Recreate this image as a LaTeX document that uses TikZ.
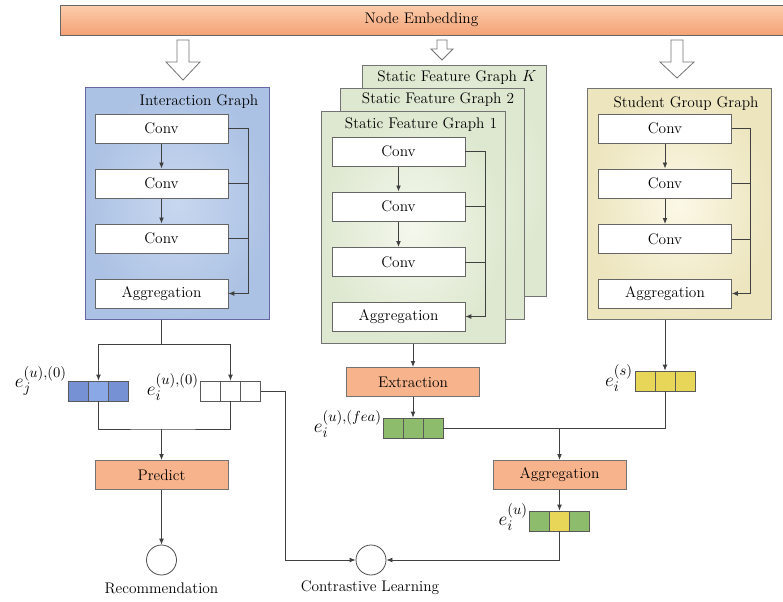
\documentclass[tikz,border=0pt]{standalone}
\usetikzlibrary{arrows.meta,calc}
\definecolor{orF}{RGB}{247,180,140}
\definecolor{orTop}{RGB}{251,205,172}
\definecolor{orBot}{RGB}{244,162,118}
\definecolor{bluIn}{RGB}{200,215,239}
\definecolor{bluOut}{RGB}{172,194,228}
\definecolor{grnIn}{RGB}{244,248,237}
\definecolor{grnOut}{RGB}{222,232,208}
\definecolor{ylwIn}{RGB}{251,248,230}
\definecolor{ylwOut}{RGB}{237,229,190}
\definecolor{cellB}{RGB}{118,146,212}
\definecolor{cellBm}{RGB}{138,168,230}
\definecolor{cellG}{RGB}{140,188,108}
\definecolor{cellY}{RGB}{232,214,88}
\newcommand{\embcells}[6]{%
  \node[cell, fill=#4] (#1-l) at (#2-20,#3) {};
  \node[cell, fill=#5] (#1) at (#2,#3) {};
  \node[cell, fill=#6] (#1-r) at (#2+20,#3) {};
}
\begin{document}
\begin{tikzpicture}[x=0.75pt,y=-0.75pt,
  every node/.style={inner sep=0pt, font=\fontsize{11.5}{13}\selectfont},
  box/.style={draw=black!60, fill=white, minimum width=99.75pt, minimum height=22pt, line width=0.5pt},
  obox/.style={box, fill=orF, draw=black!55},
  panel/.style={draw=black!55, line width=0.6pt, minimum width=138pt, minimum height=173.5pt},
  bpanel/.style={panel, inner color=bluIn, outer color=bluOut, draw=black!60!blue!60},
  gpanel/.style={panel, inner color=grnIn, outer color=grnOut},
  ypanel/.style={panel, inner color=ylwIn, outer color=ylwOut},
  arr/.style={-{Latex[length=4.5pt,width=3.6pt]}, line width=0.6pt, draw=black!75},
  ln/.style={line width=0.6pt, draw=black!75},
  cell/.style={draw=black!65, minimum width=15pt, minimum height=15pt, line width=0.5pt},
  hollow/.style={draw=black!55, fill=white, line width=0.6pt, line join=miter},
  mlabel/.style={font=\fontsize{15}{17}\selectfont, anchor=east},
  circ/.style={circle, draw=black!70, fill=white, minimum size=22.5pt, line width=0.6pt}
]
\useasboundingbox (0,0) rectangle (783,601);

% Node embedding bar
\node[draw=black!60, line width=0.6pt, top color=orTop, bottom color=orBot,
      minimum width=542.25pt, minimum height=22.5pt] (ne) at (421.5,20) {Node Embedding};

% hollow arrows
\draw[hollow] (177,40) -- (189,40) -- (189,62) -- (200,62) -- (183,80) -- (166,62) -- (177,62) -- cycle;
\draw[hollow] (437,40) -- (447,40) -- (447,49) -- (453,49) -- (442,60) -- (431,49) -- (437,49) -- cycle;
\draw[hollow] (671,40) -- (683,40) -- (683,62) -- (694,62) -- (677,78) -- (660,62) -- (671,62) -- cycle;

% Interaction graph
\node[bpanel] (ig) at (177,203.5) {};
\node (igt) at (199,102) {Interaction Graph};
\node[box] (ic1) at (161.5,128.5) {Conv};
\node[box] (ic2) at (161.5,183.5) {Conv};
\node[box] (ic3) at (161.5,238.5) {Conv};
\node[box] (iagg) at (161.5,293.5) {Aggregation};
\coordinate (ifx) at (248,128.5);
\draw[arr] (ic1) -- (ic2);
\draw[arr] (ic2) -- (ic3);
\draw[arr] (ic1.east) -- (ifx) -- (ifx |- iagg.east) -- (iagg.east);
\draw[ln] (ic2.east) -- (ifx |- ic2.east);
\draw[ln] (ic3.east) -- (ifx |- ic3.east);

% Static feature graphs
\node[gpanel] (sfk) at (454,181) {};
\node (sfkt) at (457,78) {Static Feature Graph $K$};
\node[gpanel] (sf2) at (432,204) {};
\node (sf2t) at (438,100) {Static Feature Graph 2};
\node[gpanel] (sf1) at (413,227.5) {};
\node (sf1t) at (421,125) {Static Feature Graph 1};
\node[box] (sc1) at (398.5,151.5) {Conv};
\node[box] (sc2) at (398.5,206.5) {Conv};
\node[box] (sc3) at (398.5,262) {Conv};
\node[box] (sagg) at (398.5,316.5) {Aggregation};
\coordinate (sfx) at (485,151.5);
\draw[arr] (sc1) -- (sc2);
\draw[arr] (sc2) -- (sc3);
\draw[arr] (sc1.east) -- (sfx) -- (sfx |- sagg.east) -- (sagg.east);
\draw[ln] (sc2.east) -- (sfx |- sc2.east);
\draw[ln] (sc3.east) -- (sfx |- sc3.east);

% Student group graph
\node[ypanel] (sg) at (679,204) {};
\node (sgt) at (686,104) {Student Group Graph};
\node[box] (gc1) at (665,128.5) {Conv};
\node[box] (gc2) at (665,183.5) {Conv};
\node[box] (gc3) at (665,239) {Conv};
\node[box] (gagg) at (665,293.5) {Aggregation};
\coordinate (gfx) at (750,128.5);
\draw[arr] (gc1) -- (gc2);
\draw[arr] (gc2) -- (gc3);
\draw[arr] (gc1.east) -- (gfx) -- (gfx |- gagg.east) -- (gagg.east);
\draw[ln] (gc2.east) -- (gfx |- gc2.east);
\draw[ln] (gc3.east) -- (gfx |- gc3.east);

% embeddings
\embcells{bj}{98.5}{391}{cellB}{cellBm}{cellB}
\embcells{wi}{230.5}{391}{white}{white}{white}
\embcells{gf}{413}{428}{cellG}{cellG}{cellG}
\embcells{ye}{665}{381}{cellY}{cellY}{cellY}
\embcells{fe}{559.5}{521}{cellG}{cellY}{cellG}

\node[mlabel] (lbj) at (67,381) {$e_j^{(u),(0)}$};
\node[mlabel] (lwi) at (199,387) {$e_i^{(u),(0)}$};
\node[mlabel] (lgf) at (382,424) {$e_i^{(u),(fea)}$};
\node[mlabel] (lye) at (633,378) {$e_i^{(s)}$};
\node[mlabel] (lfe) at (528,517) {$e_i^{(u)}$};

% orange boxes
\node[obox] (ext) at (413,382) {Extraction};
\node[obox] (pred) at (161.5,475) {Predict};
\node[obox] (agg2) at (559.5,475) {Aggregation};

% circles
\node[circ] (rec) at (161.5,560) {};
\node (rect) at (161.5,588) {Recommendation};
\node[circ] (cl) at (371,560) {};
\node (clt) at (370,588) {Contrastive Learning};

% connectors bottom
\coordinate (j1) at (161.5,344);
\coordinate (j2) at (161.5,429);
\coordinate (j3) at (559.5,428);
\coordinate (c3) at (285,391);
\draw[ln] (iagg.south |- ig.south) -- (j1);
\draw[arr] (j1) -| (bj.north);
\draw[arr] (j1) -| (wi.north);
\draw[ln] (bj.south) |- (j2) -| (wi.south);
\draw[arr] (j2) -- (pred.north);
\draw[arr] (pred.south) -- (rec.north);
\draw[arr] (wi-r.east) -- (c3) |- (cl.west);

\draw[arr] (sf1.south) -- (ext.north);
\draw[arr] (ext.south) -- (gf.north);
\draw[arr] (gagg.south |- sg.south) -- (ye.north);
\draw[ln] (ye.south) |- (j3);
\draw[ln] (gf-r.east) -- (j3);
\draw[arr] (j3) -- (agg2.north);
\draw[arr] (agg2.south) -- (fe.north);
\draw[arr] (fe.south) |- (cl.east);
\end{tikzpicture}
\end{document}
